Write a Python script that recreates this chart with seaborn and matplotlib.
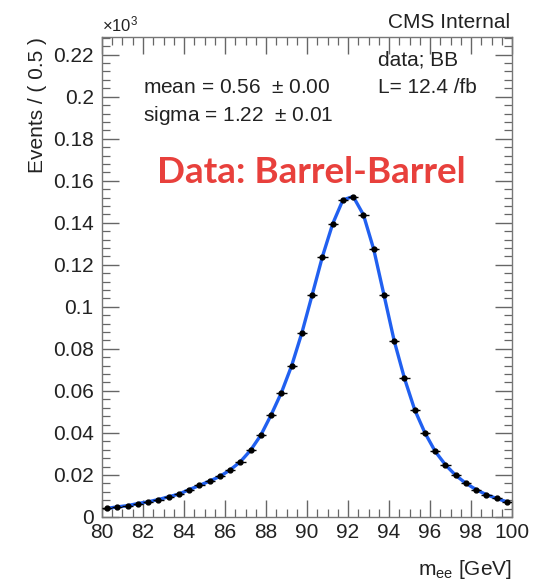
import numpy as np
import pandas as pd
import matplotlib
matplotlib.use("Agg")
import matplotlib.pyplot as plt
from matplotlib.ticker import MultipleLocator
import seaborn as sns

# ---- data ----
mass = [80.25, 80.75, 81.25, 81.75, 82.25, 82.75, 83.25, 83.75, 84.25, 84.75,
        85.25, 85.75, 86.25, 86.75, 87.25, 87.75, 88.25, 88.75, 89.25, 89.75,
        90.25, 90.75, 91.25, 91.75, 92.25, 92.75, 93.25, 93.75, 94.25, 94.75,
        95.25, 95.75, 96.25, 96.75, 97.25, 97.75, 98.25, 98.75, 99.25, 99.75]
events = [0.0041, 0.0048, 0.0054, 0.0064, 0.0072, 0.0083, 0.0096, 0.0109, 0.0130, 0.0150,
          0.0171, 0.0193, 0.0224, 0.0263, 0.0318, 0.0390, 0.0486, 0.0592, 0.0720, 0.0877,
          0.1057, 0.1239, 0.1395, 0.1509, 0.1525, 0.1438, 0.1274, 0.1057, 0.0838, 0.0660,
          0.0510, 0.0400, 0.0312, 0.0248, 0.0198, 0.0160, 0.0130, 0.0106, 0.0088, 0.0072]
event_err = [0.0004] * len(mass)
bin_halfwidth = 0.25

xticks = [80, 82, 84, 86, 88, 90, 92, 94, 96, 98, 100]
yticks = [0, 0.02, 0.04, 0.06, 0.08, 0.1, 0.12, 0.14, 0.16, 0.18, 0.2, 0.22]
ytick_labels = ["0", "0.02", "0.04", "0.06", "0.08", "0.1", "0.12", "0.14",
                "0.16", "0.18", "0.2", "0.22"]

df = pd.DataFrame({"mass": mass, "events": events})

sns.set_theme(style="ticks")
plt.rcParams["font.family"] = ["Liberation Sans", "DejaVu Sans"]
plt.rcParams["mathtext.default"] = "regular"

fig = plt.figure(figsize=(5.34, 5.87), dpi=100)
ax = fig.add_axes([0.191, 0.1193, 0.768, 0.818])

# fit curve
sns.lineplot(data=df, x="mass", y="events", ax=ax, color="#2160f0", lw=2.4,
             zorder=2, legend=False)
# data points with error bars
ax.errorbar(mass, events, xerr=bin_halfwidth, yerr=event_err, fmt="o",
            ms=3.5, color="black", ecolor="black", elinewidth=1.0,
            capsize=0, zorder=3)

ax.set_xlim(80, 100)
ax.set_ylim(0, 0.2285)
ax.set_xticks(xticks)
ax.set_xticklabels([str(t) for t in xticks])
ax.set_yticks(yticks)
ax.set_yticklabels(ytick_labels)
ax.xaxis.set_minor_locator(MultipleLocator(0.5))
ax.yaxis.set_minor_locator(MultipleLocator(0.004))

tick_col = "#222222"
ax.tick_params(axis="both", which="both", direction="in", top=True, right=True,
               colors="#666666", labelcolor=tick_col, labelsize=15)
ax.tick_params(axis="both", which="major", length=12, width=1.0)
ax.tick_params(axis="both", which="minor", length=6, width=0.9)
ax.tick_params(axis="y", which="major", pad=6)
ax.tick_params(axis="x", which="major", pad=4)
for s in ax.spines.values():
    s.set_color("#777777")
    s.set_linewidth(1.0)

ax.set_ylabel("Events / ( 0.5 )", fontsize=15, color=tick_col, loc="top", labelpad=4)
ax.set_xlabel(r"m$_{ee}$ [GeV]", fontsize=15, color=tick_col, loc="right", labelpad=12)

ax.text(0.0, 1.004, r"$\times$10$^{3}$", transform=ax.transAxes, fontsize=12,
        color=tick_col, ha="left", va="bottom")
ax.text(0.995, 1.01, "CMS Internal", transform=ax.transAxes, fontsize=15,
        color=tick_col, ha="right", va="bottom")
ax.text(0.672, 0.952, "data; BB", transform=ax.transAxes, fontsize=15,
        color=tick_col, ha="left", va="center")
ax.text(0.672, 0.895, "L= 12.4 /fb", transform=ax.transAxes, fontsize=15,
        color=tick_col, ha="left", va="center")
ax.text(0.10, 0.895, "mean = 0.56  $\\pm$ 0.00", transform=ax.transAxes, fontsize=15,
        color=tick_col, ha="left", va="center")
ax.text(0.10, 0.837, "sigma = 1.22  $\\pm$ 0.01", transform=ax.transAxes, fontsize=15,
        color=tick_col, ha="left", va="center")
ax.text(0.51, 0.717, "Data: Barrel-Barrel", transform=ax.transAxes, fontsize=26.5,
        color="#e8403c", ha="center", va="center", fontweight="bold",
        family=["Lato", "DejaVu Sans"])

fig.savefig("out.png", dpi=100)
